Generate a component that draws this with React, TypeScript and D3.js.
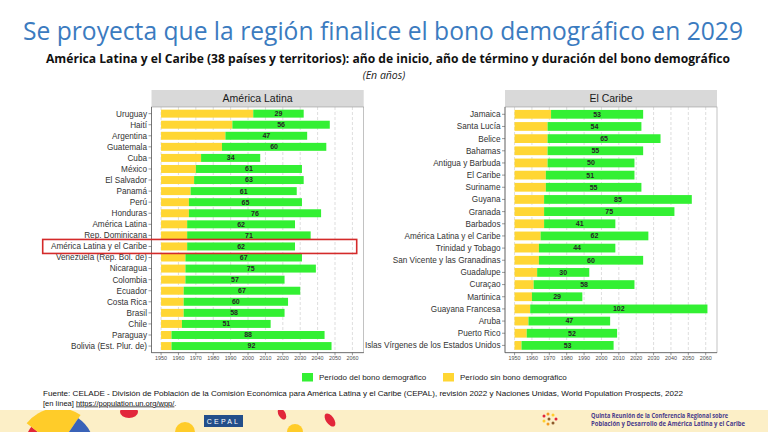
import React, { useEffect, useRef } from 'react';
import * as d3 from 'd3';

// América Latina panel (top to bottom)
const latamNames = [
  'Uruguay', 'Haití', 'Argentina', 'Guatemala', 'Cuba', 'México', 'El Salvador', 'Panamá', 'Perú',
  'Honduras', 'América Latina', 'Rep. Dominicana', 'América Latina y el Caribe',
  'Venezuela (Rep. Bol. de)', 'Nicaragua', 'Colombia', 'Ecuador', 'Costa Rica', 'Brasil', 'Chile',
  'Paraguay', 'Bolivia (Est. Plur. de)',
];
const latamStart = [2003, 1991, 1987, 1985, 1973, 1970, 1969, 1967, 1966, 1966, 1965, 1965, 1965, 1964, 1964, 1964, 1963, 1963, 1963, 1962, 1956, 1956];
const latamDuration = [29, 56, 47, 60, 34, 61, 63, 61, 65, 76, 62, 71, 62, 67, 75, 57, 67, 60, 58, 51, 88, 92];

// El Caribe panel (top to bottom)
const caribeNames = [
  'Jamaica', 'Santa Lucía', 'Belice', 'Bahamas', 'Antigua y Barbuda', 'El Caribe', 'Suriname', 'Guyana',
  'Granada', 'Barbados', 'América Latina y el Caribe', 'Trinidad y Tobago', 'San Vicente y las Granadinas',
  'Guadalupe', 'Curaçao', 'Martinica', 'Guayana Francesa', 'Aruba', 'Puerto Rico',
  'Islas Vírgenes de los Estados Unidos',
];
const caribeStart = [1971, 1969, 1969, 1969, 1969, 1968, 1968, 1967, 1967, 1967, 1965, 1964, 1964, 1963, 1961, 1960, 1959, 1958, 1957, 1954];
const caribeDuration = [53, 54, 65, 55, 50, 51, 55, 85, 75, 41, 62, 44, 60, 30, 58, 29, 102, 47, 52, 53];

const yearTicks = [1950, 1960, 1970, 1980, 1990, 2000, 2010, 2020, 2030, 2040, 2050, 2060];
const legendLabels = ['Período del bono demográfico', 'Período sin bono demográfico'];

const GREEN = '#33f033';
const YELLOW = '#ffd633';
const FONT = '"Liberation Sans", Arial, sans-serif';
const TITLE_FONT = '"Open Sans", "Noto Sans", sans-serif';

const PANEL_TOP = 107;
const PANEL_BOTTOM = 352.7;
const STRIP_TOP = 90;

function drawPanel(
  root: d3.Selection<SVGSVGElement, unknown, null, undefined>,
  names: string[],
  start: number[],
  duration: number[],
  left: number,
  right: number,
  title: string,
) {
  const x = d3.scaleLinear().domain([1944.5, 2066.5]).range([left, right]);
  const y = d3.scaleBand<string>().domain(names).range([PANEL_TOP, PANEL_BOTTOM])
    .paddingInner(0.28).paddingOuter(0.24);
  const rows = names.map((n, i) => ({ name: n, start: start[i], end: start[i] + duration[i], dur: duration[i] }));

  const g = root.append('g');

  // strip header
  g.append('rect')
    .attr('x', left).attr('y', STRIP_TOP)
    .attr('width', right - left).attr('height', PANEL_TOP - STRIP_TOP)
    .attr('fill', '#d9d9d9');
  g.append('text')
    .attr('x', (left + right) / 2).attr('y', (STRIP_TOP + PANEL_TOP) / 2 + 3.8)
    .attr('text-anchor', 'middle')
    .attr('font-family', FONT).attr('font-size', 10.5).attr('fill', '#1a1a1a')
    .text(title);

  // grid
  g.selectAll('line.grid').data(yearTicks).join('line')
    .attr('x1', d => x(d)).attr('x2', d => x(d))
    .attr('y1', PANEL_TOP).attr('y2', PANEL_BOTTOM)
    .attr('stroke', '#c8c8c8').attr('stroke-width', 0.6).attr('stroke-dasharray', '3,2');

  // bars
  g.selectAll('rect.pre').data(rows).join('rect')
    .attr('x', x(1950)).attr('y', d => y(d.name)!)
    .attr('width', d => x(d.start) - x(1950)).attr('height', y.bandwidth())
    .attr('fill', YELLOW);
  g.selectAll('rect.bono').data(rows).join('rect')
    .attr('x', d => x(d.start)).attr('y', d => y(d.name)!)
    .attr('width', d => x(d.end) - x(d.start)).attr('height', y.bandwidth())
    .attr('fill', GREEN);
  g.selectAll('text.dur').data(rows).join('text')
    .attr('x', d => (x(d.start) + x(d.end)) / 2)
    .attr('y', d => y(d.name)! + y.bandwidth() / 2 + 2.4)
    .attr('text-anchor', 'middle')
    .attr('font-family', FONT).attr('font-size', 7).attr('font-weight', 'bold').attr('fill', '#262626')
    .text(d => d.dur);

  // border
  g.append('rect')
    .attr('x', left).attr('y', PANEL_TOP)
    .attr('width', right - left).attr('height', PANEL_BOTTOM - PANEL_TOP)
    .attr('fill', 'none').attr('stroke', '#9a9a9a').attr('stroke-width', 0.6);
  g.append('line')
    .attr('x1', left).attr('x2', left).attr('y1', PANEL_TOP).attr('y2', PANEL_BOTTOM)
    .attr('stroke', '#555').attr('stroke-width', 0.7);
  g.append('line')
    .attr('x1', left).attr('x2', right).attr('y1', PANEL_BOTTOM).attr('y2', PANEL_BOTTOM)
    .attr('stroke', '#555').attr('stroke-width', 0.7);

  // y axis
  const yc = (n: string) => y(n)! + y.bandwidth() / 2;
  g.selectAll('line.ytick').data(names).join('line')
    .attr('x1', left - 3).attr('x2', left).attr('y1', yc).attr('y2', yc)
    .attr('stroke', '#555').attr('stroke-width', 0.6);
  g.selectAll('text.ylab').data(names).join('text')
    .attr('x', left - 4.5).attr('y', d => yc(d) + 2.9)
    .attr('text-anchor', 'end')
    .attr('font-family', FONT).attr('font-size', 8.2).attr('fill', '#333')
    .text(d => d);

  // x axis
  g.selectAll('line.xtick').data(yearTicks).join('line')
    .attr('x1', d => x(d)).attr('x2', d => x(d))
    .attr('y1', PANEL_BOTTOM).attr('y2', PANEL_BOTTOM + 2.5)
    .attr('stroke', '#555').attr('stroke-width', 0.6);
  g.selectAll('text.xlab').data(yearTicks).join('text')
    .attr('x', d => x(d)).attr('y', PANEL_BOTTOM + 7.5)
    .attr('text-anchor', 'middle')
    .attr('font-family', FONT).attr('font-size', 5.4).attr('fill', '#4d4d4d')
    .text(d => d);

  return { x, y };
}

const App: React.FC = () => {
  const ref = useRef<SVGSVGElement>(null);

  useEffect(() => {
    if (!ref.current) return;
    const svg = d3.select(ref.current);
    svg.selectAll('*').remove();

    svg.append('rect').attr('width', 768).attr('height', 432).attr('fill', '#fff');

    // titles
    svg.append('text')
      .attr('transform', 'translate(23,40) scale(1,1.18)')
      .attr('font-family', TITLE_FONT).attr('font-size', 22).attr('fill', '#3b7bbf')
      .attr('textLength', 720).attr('lengthAdjust', 'spacingAndGlyphs')
      .text('Se proyecta que la región finalice el bono demográfico en 2029');
    svg.append('text')
      .attr('x', 46).attr('y', 63)
      .attr('font-family', TITLE_FONT).attr('font-size', 12).attr('font-weight', 'bold').attr('fill', '#111')
      .attr('textLength', 684).attr('lengthAdjust', 'spacingAndGlyphs')
      .text('América Latina y el Caribe (38 países y territorios): año de inicio, año de término y duración del bono demográfico');
    svg.append('text')
      .attr('x', 384).attr('y', 78.5).attr('text-anchor', 'middle')
      .attr('font-family', TITLE_FONT).attr('font-size', 10.5).attr('font-style', 'italic').attr('fill', '#222')
      .text('(En años)');

    const lp = drawPanel(svg, latamNames, latamStart, latamDuration, 151.5, 363.7, 'América Latina');
    drawPanel(svg, caribeNames, caribeStart, caribeDuration, 505, 717, 'El Caribe');

    // highlighted row in the left panel
    const hy = lp.y('América Latina y el Caribe')! + lp.y.bandwidth() / 2;
    svg.append('rect')
      .attr('x', 42.7).attr('y', hy - 7).attr('width', 314).attr('height', 14)
      .attr('fill', 'none').attr('stroke', '#d42a2a').attr('stroke-width', 1.6);

    // legend
    const legend = svg.append('g');
    const legendX = [302, 443];
    [GREEN, YELLOW].forEach((c, i) => {
      legend.append('rect').attr('x', legendX[i]).attr('y', 373).attr('width', 11).attr('height', 8.5).attr('fill', c);
      legend.append('text')
        .attr('x', legendX[i] + 17).attr('y', 380.3)
        .attr('font-family', FONT).attr('font-size', 8).attr('fill', '#222')
        .text(legendLabels[i]);
    });

    // source
    svg.append('text')
      .attr('x', 43).attr('y', 395.5)
      .attr('font-family', FONT).attr('font-size', 7.5).attr('fill', '#111')
      .attr('textLength', 640).attr('lengthAdjust', 'spacingAndGlyphs')
      .text('Fuente: CELADE - División de Población de la Comisión Económica para América Latina y el Caribe (CEPAL), revisión 2022 y Naciones Unidas, World Population Prospects, 2022');
    const src2 = svg.append('text')
      .attr('x', 43).attr('y', 405.5)
      .attr('font-family', FONT).attr('font-size', 7.5).attr('fill', '#111');
    src2.append('tspan').text('[en línea] ');
    src2.append('tspan').attr('text-decoration', 'underline').text('https://population.un.org/wpp/');
    src2.append('tspan').text('.');

    // footer band
    const foot = svg.append('g');
    foot.append('rect').attr('x', 0).attr('y', 410).attr('width', 768).attr('height', 22).attr('fill', '#fcefc7');
    const clip = svg.append('clipPath').attr('id', 'footclip');
    clip.append('rect').attr('x', 0).attr('y', 410).attr('width', 768).attr('height', 22);
    const deco = foot.append('g').attr('clip-path', 'url(#footclip)');
    const arc = d3.arc<{ a0: number; a1: number; r: number }>()
      .innerRadius(0).outerRadius(d => d.r).startAngle(d => d.a0).endAngle(d => d.a1);
    const petals = [
      { a0: -1.9, a1: -0.9, r: 34, c: '#e2263a' },
      { a0: -0.9, a1: 0.6, r: 40, c: '#ffcc29' },
      { a0: 0.6, a1: 1.3, r: 36, c: '#3a63b8' },
      { a0: 1.3, a1: 1.9, r: 34, c: '#1f3f8f' },
      { a0: 1.9, a1: 2.4, r: 30, c: '#e2263a' },
    ];
    deco.selectAll('path.petal').data(petals).join('path')
      .attr('transform', 'translate(58,448)')
      .attr('d', d => arc(d))
      .attr('fill', d => d.c);
    deco.append('ellipse').attr('cx', 129).attr('cy', 412).attr('rx', 9).attr('ry', 6).attr('fill', '#e2263a');
    deco.append('circle').attr('cx', 185).attr('cy', 432).attr('r', 10).attr('fill', '#ffcc29');
    deco.append('ellipse').attr('cx', 282).attr('cy', 414).attr('rx', 3.5).attr('ry', 6)
      .attr('transform', 'rotate(-30,282,414)').attr('fill', '#e2263a');
    deco.append('circle').attr('cx', 295).attr('cy', 432).attr('r', 8).attr('fill', '#ffcc29');
    deco.append('ellipse').attr('cx', 330).attr('cy', 420).attr('rx', 4).attr('ry', 7.5)
      .attr('transform', 'rotate(-35,330,420)').attr('fill', '#e2263a');
    foot.append('rect').attr('x', 204).attr('y', 415).attr('width', 39).attr('height', 12).attr('fill', '#234e8a');
    foot.append('text')
      .attr('x', 223.5).attr('y', 424).attr('text-anchor', 'middle')
      .attr('font-family', FONT).attr('font-size', 7).attr('fill', '#fff').attr('letter-spacing', 2.2)
      .text('CEPAL');
    const dots = [
      [544, 416, '#e2263a'], [548, 414, '#f39a1e'], [553, 415, '#ffcc29'], [556, 419, '#e2263a'],
      [553, 423, '#8c5a2b'], [548, 424, '#f39a1e'], [544, 421, '#ffcc29'], [549, 419, '#8c5a2b'],
    ] as [number, number, string][];
    foot.selectAll('circle.logo').data(dots).join('circle')
      .attr('cx', d => d[0]).attr('cy', d => d[1]).attr('r', 1.5).attr('fill', d => d[2]);
    foot.append('text')
      .attr('x', 591).attr('y', 417.6)
      .attr('font-family', TITLE_FONT).attr('font-size', 6.4).attr('font-weight', 'bold').attr('fill', '#4a3c8c')
      .attr('textLength', 137).attr('lengthAdjust', 'spacingAndGlyphs')
      .text('Quinta Reunión de la Conferencia Regional sobre');
    foot.append('text')
      .attr('x', 591).attr('y', 425.6)
      .attr('font-family', TITLE_FONT).attr('font-size', 6.4).attr('font-weight', 'bold').attr('fill', '#4a3c8c')
      .attr('textLength', 154).attr('lengthAdjust', 'spacingAndGlyphs')
      .text('Población y Desarrollo de América Latina y el Caribe');
  }, []);

  return (
    <svg
      ref={ref}
      width={768}
      height={432}
      style={{ position: 'absolute', left: 0, top: 0, display: 'block' }}
    />
  );
};

export default App;
